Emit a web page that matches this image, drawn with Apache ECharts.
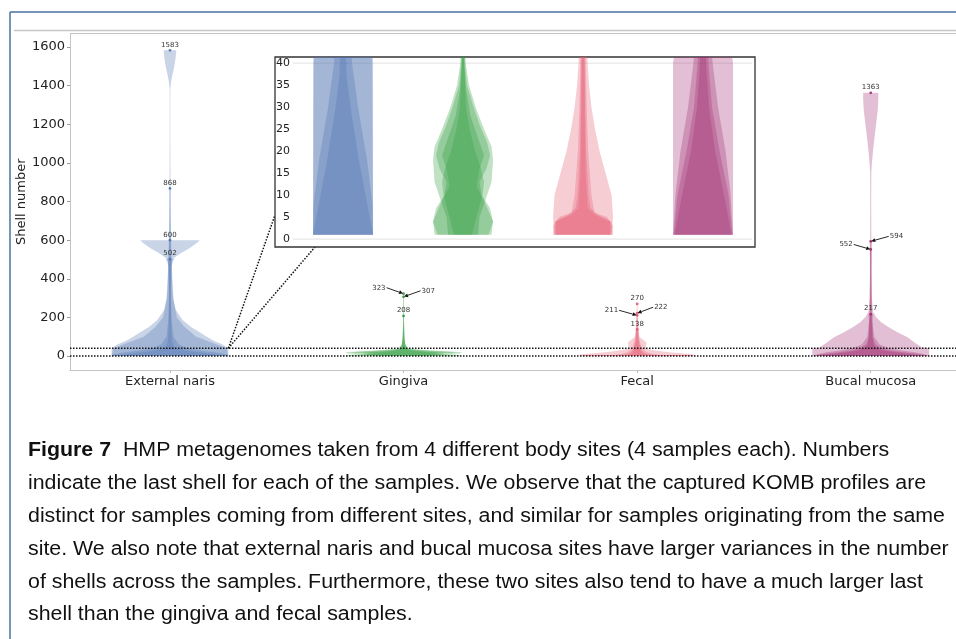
<!DOCTYPE html>
<html>
<head>
<meta charset="utf-8">
<script src="https://cdn.jsdelivr.net/npm/echarts@6/dist/echarts.min.js"></script>
<style>
html, body { margin: 0; padding: 0; background: #fff; }
#chart { width: 956px; height: 639px; }
</style>
</head>
<body>
<div id="chart"></div>
<script>
const sites = ['External naris', 'Gingiva', 'Fecal', 'Bucal mucosa'];
const siteColors = ['#4c72b0', '#2e9a3a', '#e45870', '#a02a72'];
const yTicks = [0, 200, 400, 600, 800, 1000, 1200, 1400, 1600];
const insetTicks = [0, 5, 10, 15, 20, 25, 30, 35, 40];
const insetRange = [0, 41];

// violin outlines, one per sample: [shell, relative half width]
const narisProfiles = [
  [[1,1],[40,1],[60,0.9],[80,0.75],[100,0.63],[120,0.53],[150,0.36],[186,0.22],[238,0.1],[290,0.065],[340,0.05],[445,0.035],[600,0.02],[800,0.01],[1100,0.006],[1380,0.006],[1410,0.015],[1440,0.03],[1480,0.06],[1520,0.085],[1555,0.1],[1583,0.11]],
  [[1,1],[40,0.97],[60,0.8],[100,0.45],[150,0.25],[200,0.12],[300,0.05],[500,0.02],[700,0.01],[868,0.01]],
  [[1,1],[8,0.98],[18,0.8],[30,0.5],[40,0.3],[60,0.15],[100,0.06],[200,0.025],[350,0.015],[490,0.03],[510,0.08],[530,0.17],[560,0.34],[585,0.46],[600,0.51]],
  [[1,1],[10,0.75],[18,0.53],[29,0.27],[37,0.12],[45,0.08],[70,0.04],[120,0.025],[300,0.015],[460,0.02],[490,0.05],[502,0.07]]
];
const gingivaProfiles = [
  [[1,0.85],[4,1],[7,0.9],[10,0.62],[13,0.55],[16,0.78],[19,0.9],[22,0.8],[26,0.55],[30,0.35],[35,0.13],[40,0.06],[60,0.025],[100,0.012],[200,0.006],[323,0.005]],
  [[1,0.5],[5,0.55],[9,0.75],[13,0.95],[18,1],[21,0.95],[25,0.7],[30,0.42],[35,0.2],[40,0.09],[60,0.035],[100,0.015],[200,0.006],[307,0.005]],
  [[1,0.3],[5,0.45],[10,0.65],[13,0.7],[16,0.6],[20,0.4],[25,0.22],[30,0.1],[40,0.04],[80,0.02],[208,0.005]],
  [[1,0.95],[4,1],[8,0.75],[12,0.45],[16,0.55],[19,0.7],[23,0.5],[28,0.25],[34,0.1],[40,0.04],[80,0.015],[150,0.005]]
];
const fecalProfiles = [
  [[1,0.95],[5,1],[10,0.95],[15,0.75],[20,0.55],[25,0.4],[30,0.28],[35,0.2],[40,0.15],[55,0.15],[70,0.16],[85,0.1],[100,0.04],[150,0.02],[200,0.01],[270,0.008]],
  [[1,1],[3,1],[5,0.8],[6,0.38],[10,0.28],[20,0.17],[30,0.12],[40,0.09],[60,0.06],[100,0.03],[150,0.01],[222,0.006]],
  [[1,0.95],[4,0.95],[5.5,0.5],[7,0.25],[10,0.18],[20,0.1],[40,0.06],[80,0.03],[211,0.006]],
  [[1,0.9],[4,0.9],[5.5,0.4],[7,0.15],[15,0.08],[40,0.04],[80,0.02],[138,0.01]]
];
const bucalProfiles = [
  [[1,1],[40,1],[46,0.87],[70,0.75],[98,0.63],[125,0.45],[150,0.3],[175,0.18],[202,0.09],[230,0.04],[300,0.02],[500,0.012],[800,0.008],[950,0.01],[1000,0.02],[1067,0.04],[1120,0.06],[1170,0.08],[1274,0.12],[1330,0.13],[1363,0.13]],
  [[1,1],[10,0.92],[20,0.75],[30,0.5],[40,0.32],[60,0.15],[100,0.06],[200,0.02],[400,0.012],[540,0.015],[594,0.02]],
  [[1,0.98],[10,0.85],[20,0.55],[30,0.3],[40,0.18],[60,0.08],[100,0.03],[200,0.015],[450,0.01],[552,0.015]],
  [[1,0.95],[10,0.7],[20,0.4],[30,0.2],[40,0.1],[60,0.05],[100,0.035],[180,0.03],[217,0.04]]
];
// last shell of each labelled sample
const lastShells = [
  [1583, 868, 600, 502],
  [323, 307, 208],
  [270, 222, 211, 138],
  [1363, 594, 552, 217]
];
const captionLines = [
  '{b|Figure 7}  HMP metagenomes taken from 4 different body sites (4 samples each). Numbers',
  'indicate the last shell for each of the samples. We observe that the captured KOMB profiles are',
  'distinct for samples coming from different sites, and similar for samples originating from the same',
  'site. We also note that external naris and bucal mucosa sites have larger variances in the number',
  'of shells across the samples. Furthermore, these two sites also tend to have a much larger last',
  'shell than the gingiva and fecal samples.'
];

const HALF_WIDTH = 0.25;
const VIOLIN_ALPHA = 0.3;
// labels drawn beside the point with an arrow: [dx, dy] of the text edge
const arrowOffsets = {
  '1:323': [-17, -6], '1:307': [17, -6],
  '2:211': [-18, -5], '2:222': [16, -6],
  '3:594': [18, -5], '3:552': [-17, -5]
};
const FONT = '"DejaVu Sans", sans-serif';
const CAPTION_FONT = '"Liberation Sans Narrow", "Liberation Sans", sans-serif';
const CAPTION_SIZE = 19.5;
const SPINE = '#c4c4c4';

const profilesBySite = [narisProfiles, gingivaProfiles, fecalProfiles, bucalProfiles];

function violinRender(profiles, site) {
  return function (params, api) {
    const prof = profiles[params.dataIndex];
    const pts = [];
    prof.forEach(p => pts.push(api.coord([site + p[1] * HALF_WIDTH, p[0]])));
    for (let i = prof.length - 1; i >= 0; i--) {
      pts.push(api.coord([site - prof[i][1] * HALF_WIDTH, prof[i][0]]));
    }
    return {
      type: 'polygon',
      shape: { points: pts },
      style: { fill: siteColors[site], opacity: VIOLIN_ALPHA }
    };
  };
}

const series = [];
profilesBySite.forEach((profiles, s) => {
  [0, 1].forEach(g => {
    series.push({
      type: 'custom',
      xAxisIndex: g,
      yAxisIndex: g,
      clip: true,
      silent: true,
      z: g ? 6 : 2,
      data: profiles.map(() => [s, 0]),
      renderItem: violinRender(profiles, s)
    });
  });
});

// dotted band of the zoomed region + connectors
series.push({
  type: 'custom', xAxisIndex: 0, yAxisIndex: 0, silent: true, z: 3,
  data: [[0, 0]],
  renderItem: (params, api) => {
    const cs = params.coordSys;
    const start = api.coord([HALF_WIDTH, insetRange[1]]);
    const children = insetRange.map(v => {
      const y = api.coord([0, v])[1];
      return { type: 'line', shape: { x1: cs.x, y1: y, x2: cs.x + cs.width + 2, y2: y },
        style: { stroke: '#111', lineWidth: 1.5, lineDash: [1.5, 1.5] } };
    });
    [[275, 215], [315, 247]].forEach(e => {
      children.push({ type: 'line', shape: { x1: start[0], y1: start[1], x2: e[0], y2: e[1] },
        style: { stroke: '#111', lineWidth: 1.5, lineDash: [1.5, 1.5] } });
    });
    return { type: 'group', children };
  }
});

// inset grid lines
series.push({
  type: 'custom', xAxisIndex: 1, yAxisIndex: 1, silent: true, z: 5,
  data: [[0, 0]],
  renderItem: (params, api) => {
    const cs = params.coordSys;
    return { type: 'group', children: [insetTicks[0], insetTicks[insetTicks.length - 1]].map(v => {
      const y = api.coord([0, v])[1];
      return { type: 'line', shape: { x1: cs.x, y1: y, x2: cs.x + cs.width, y2: y },
        style: { stroke: '#e2e2e2', lineWidth: 1 } };
    }) };
  }
});

// last shell markers and labels
const labelData = [];
lastShells.forEach((vals, s) => vals.forEach(v => labelData.push([s, v])));
series.push({
  type: 'custom', xAxisIndex: 0, yAxisIndex: 0, silent: true, z: 4,
  data: labelData,
  renderItem: (params, api) => {
    const s = api.value(0), v = api.value(1);
    const p = api.coord([s, v]);
    const children = [{ type: 'circle', shape: { cx: p[0], cy: p[1], r: 1.4 },
      style: { fill: siteColors[s], opacity: 0.9 } }];
    const off = arrowOffsets[s + ':' + v];
    if (off) {
      const t = [p[0] + off[0], p[1] + off[1]];
      children.push({ type: 'text', style: { text: String(v), x: t[0] + (off[0] < 0 ? -1 : 1), y: t[1],
        align: off[0] < 0 ? 'right' : 'left', verticalAlign: 'middle',
        fontSize: 7, fontFamily: FONT, fill: '#333' } });
      const dx = p[0] - t[0], dy = p[1] - t[1];
      const len = Math.sqrt(dx * dx + dy * dy);
      const ux = dx / len, uy = dy / len;
      const tip = [p[0] - ux * 0.5, p[1] - uy * 0.5];
      const base = [tip[0] - ux * 4, tip[1] - uy * 4];
      children.push({ type: 'line', shape: { x1: t[0], y1: t[1], x2: base[0], y2: base[1] },
        style: { stroke: '#111', lineWidth: 0.9 } });
      children.push({ type: 'polygon', shape: { points: [tip,
        [base[0] - uy * 2, base[1] + ux * 2], [base[0] + uy * 2, base[1] - ux * 2]] },
        style: { fill: '#111' } });
    } else {
      children.push({ type: 'text', style: { text: String(v), x: p[0], y: p[1] - 2,
        align: 'center', verticalAlign: 'bottom', fontSize: 7, fontFamily: FONT, fill: '#333' } });
    }
    return { type: 'group', children };
  }
});

// caption width
const measureCtx = document.createElement('canvas').getContext('2d');
measureCtx.font = CAPTION_SIZE + 'px ' + CAPTION_FONT;
const captionScale = 917 / measureCtx.measureText(captionLines[2]).width;

const graphics = [
  { type: 'line', z: 0, shape: { x1: 10, y1: 12, x2: 956, y2: 12 }, style: { stroke: '#4a70a3', lineWidth: 1.5 } },
  { type: 'line', z: 0, shape: { x1: 10, y1: 12, x2: 10, y2: 639 }, style: { stroke: '#4a70a3', lineWidth: 1.5 } },
  { type: 'line', z: 0, shape: { x1: 14, y1: 30.5, x2: 956, y2: 30.5 }, style: { stroke: '#c6c6c6', lineWidth: 1.5 } },
  { type: 'line', z: 0, shape: { x1: 70, y1: 33.5, x2: 956, y2: 33.5 }, style: { stroke: SPINE, lineWidth: 1 } },
  { type: 'rect', z: 4, shape: { x: 275, y: 57, width: 480, height: 190 },
    style: { fill: '#fff', stroke: '#333', lineWidth: 1.3 } }
];
captionLines.forEach((line, i) => {
  graphics.push({
    type: 'text', z: 1, x: 28, y: 451 + i * 32.8, scaleX: captionScale,
    style: { text: line, x: 0, y: 0, verticalAlign: 'middle', fontSize: CAPTION_SIZE,
      fontFamily: CAPTION_FONT, fill: '#111',
      rich: { b: { fontWeight: 'bold', fontSize: CAPTION_SIZE, fontFamily: CAPTION_FONT, fill: '#111' } } }
  });
});

const chart = echarts.init(document.getElementById('chart'));
chart.setOption({
  animation: false,
  backgroundColor: '#fff',
  grid: [
    { left: 70, top: 33.5, width: 886, height: 336.5 },
    { left: 293, top: 57, width: 459, height: 190 }
  ],
  xAxis: [
    {
      type: 'value', gridIndex: 0, min: -0.428, max: 3.365, position: 'bottom',
      axisLine: { show: true, onZero: false, lineStyle: { color: SPINE, width: 1 } },
      splitLine: { show: false },
      axisTick: { customValues: [0, 1, 2, 3], length: 3, lineStyle: { color: '#bbb' } },
      axisLabel: { customValues: [0, 1, 2, 3], formatter: v => sites[Math.round(v)],
        fontSize: 13, fontFamily: FONT, color: '#222', margin: 5 }
    },
    { type: 'value', gridIndex: 1, min: -0.417, max: 3.408, show: false }
  ],
  yAxis: [
    {
      type: 'value', gridIndex: 0, min: -72, max: 1670, position: 'left',
      name: 'Shell number', nameLocation: 'middle', nameGap: 42, nameMoveOverlap: false,
      nameTextStyle: { fontSize: 13, fontFamily: FONT, color: '#222' },
      axisLine: { show: true, onZero: false, lineStyle: { color: SPINE, width: 1 } },
      splitLine: { show: false },
      axisTick: { customValues: yTicks, length: 3, lineStyle: { color: '#999' } },
      axisLabel: { customValues: yTicks, formatter: v => String(v),
        fontSize: 13, fontFamily: FONT, color: '#222', margin: 5 }
    },
    {
      type: 'value', gridIndex: 1, min: -1.8, max: 41.4, z: 10,
      axisLine: { show: false, onZero: false }, splitLine: { show: false }, axisTick: { show: false },
      axisLabel: { customValues: insetTicks, formatter: v => String(v),
        fontSize: 11, fontFamily: FONT, color: '#222', margin: 3 }
    }
  ],
  graphic: { elements: graphics },
  series: series
});
</script>
</body>
</html>
